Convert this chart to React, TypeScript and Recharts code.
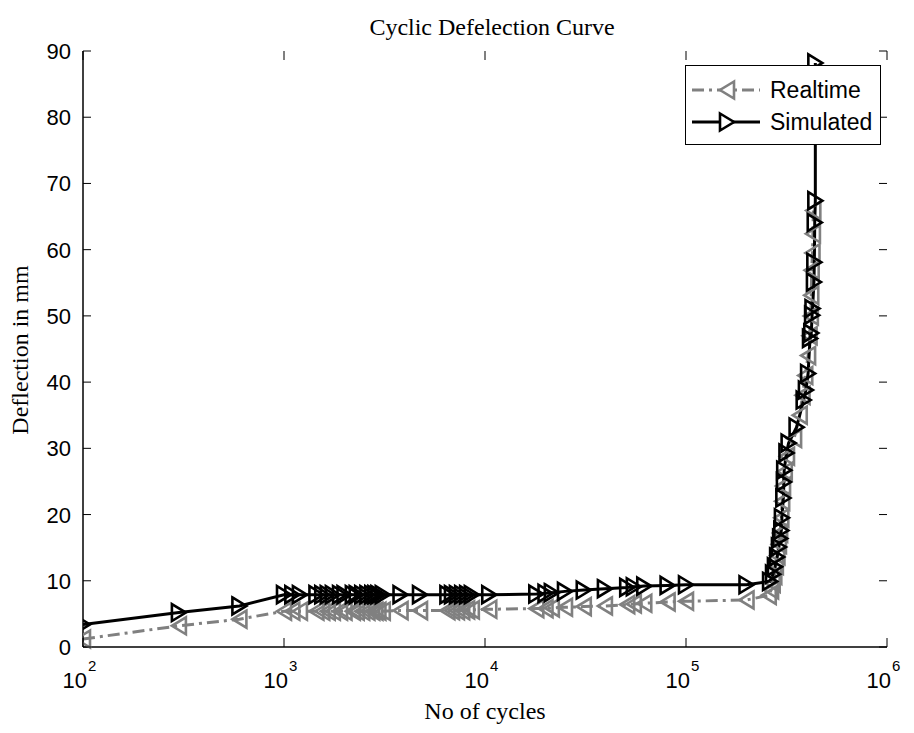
import React from 'react';
import {
  LineChart,
  Line,
  XAxis,
  YAxis,
  Legend,
} from 'recharts';

// realtime measurements (grey, dash-dot, '<' markers)
const realCycles = [
  100, 300, 600, 1000, 1100, 1200, 1450, 1550, 1650, 1750, 1900, 2000, 2200, 2300, 2450, 2600,
  2750, 2850, 2950, 3100, 3800, 4750, 6500, 6850, 7250, 7700, 8150, 8600, 10500, 18000, 20000,
  21500, 25000, 31000, 39500, 51000, 55000, 62000, 81000, 100000, 200000, 258000, 265000, 270000,
  275000, 280000, 285000, 290000, 294000, 298000, 301000, 304000, 310000, 318000, 345000, 368000,
  380000, 392000, 405000, 412000, 418000, 420000, 422000, 426000, 428000, 430000,
];
const realDeflection = [
  1.2, 3.2, 4.2, 5.4, 5.4, 5.4, 5.4, 5.4, 5.4, 5.4, 5.4, 5.4, 5.4, 5.4, 5.4, 5.4,
  5.4, 5.4, 5.4, 5.4, 5.5, 5.5, 5.5, 5.5, 5.5, 5.5, 5.6, 5.6, 5.7, 5.8, 5.8,
  5.9, 6.0, 6.1, 6.2, 6.4, 6.5, 6.6, 6.8, 6.9, 7.1, 7.8, 8.6, 9.6,
  10.8, 12.3, 13.8, 15.5, 17.2, 19.5, 22.0, 24.3, 26.5, 28.8, 31.5, 35.0,
  38.0, 41.0, 44.0, 47.0, 50.0, 53.1, 56.9, 59.5, 62.4, 65.9,
];

// simulated curve (black, solid, '>' markers)
const simCycles = [
  100, 300, 600, 1000, 1100, 1200, 1450, 1550, 1650, 1750, 1900, 2000, 2200, 2300, 2450, 2600,
  2750, 2850, 2950, 3100, 3800, 4750, 6500, 6850, 7250, 7700, 8150, 8600, 10500, 18000, 20000,
  21500, 25000, 31000, 39500, 51000, 55000, 62000, 81000, 100000, 200000, 262000, 271000, 277000,
  284000, 290000, 294000, 298000, 300000, 305000, 307000, 308000, 316000, 324000, 355000, 385000,
  395000, 405000, 414000, 420000, 424000, 426000, 433000, 435000, 437000, 440000, 440000,
];
const simDeflection = [
  3.4, 5.2, 6.2, 7.9, 7.9, 7.9, 7.9, 7.9, 7.9, 7.9, 7.9, 7.9, 7.9, 7.9, 7.9, 7.9,
  7.9, 7.9, 7.9, 7.9, 7.9, 7.9, 7.9, 7.9, 7.9, 7.9, 7.9, 7.9, 7.9, 8.0, 8.1,
  8.2, 8.4, 8.6, 8.8, 9.0, 9.1, 9.2, 9.3, 9.4, 9.4, 9.9, 11.0, 12.1,
  13.6, 15.1, 16.4, 17.6, 19.5, 22.5, 24.9, 26.7, 29.3, 30.8, 33.2, 37.3,
  38.8, 41.3, 46.6, 47.4, 50.1, 51.1, 55.1, 58.1, 64.1, 67.4, 88.2,
];

const xMajorTicks = [100, 1000, 10000, 100000, 1000000];
const xMinorTicks = [
  200, 300, 400, 500, 600, 700, 800, 900,
  2000, 3000, 4000, 5000, 6000, 7000, 8000, 9000,
  20000, 30000, 40000, 50000, 60000, 70000, 80000, 90000,
  200000, 300000, 400000, 500000, 600000, 700000, 800000, 900000,
];
const yTicks = [0, 10, 20, 30, 40, 50, 60, 70, 80, 90];

const realData = realCycles.map((x, i) => ({ x, y: realDeflection[i] }));
const simData = simCycles.map((x, i) => ({ x, y: simDeflection[i] }));

// plot box in pixels
const W = 914;
const H = 733;
const PL = 83;
const PR = 887;
const PT = 51;
const PB = 647;

const GREY = '#808080';
const sans = '"Liberation Sans", Arial, sans-serif';
const serif = '"Liberation Serif", "Times New Roman", serif';

const RightTri = (props: any) => {
  const { cx, cy, index } = props;
  if (cx == null || cy == null) return null;
  const w = 7;
  const h = 8.5;
  return (
    <polygon
      key={`s-${index}`}
      points={`${cx - w},${cy - h} ${cx + w},${cy} ${cx - w},${cy + h}`}
      fill='none'
      stroke='#000'
      strokeWidth={2.6}
      strokeLinejoin='miter'
    />
  );
};

const LeftTri = (props: any) => {
  const { cx, cy, index } = props;
  if (cx == null || cy == null) return null;
  const w = 7;
  const h = 8.5;
  return (
    <polygon
      key={`r-${index}`}
      points={`${cx + w},${cy - h} ${cx - w},${cy} ${cx + w},${cy + h}`}
      fill='none'
      stroke={GREY}
      strokeWidth={2.6}
      strokeLinejoin='miter'
    />
  );
};

const XMajorTick = (props: any) => {
  const { x, payload } = props;
  const exp = Math.round(Math.log10(payload.value));
  return (
    <g>
      <line x1={x} x2={x} y1={PB} y2={PB - 9} stroke='#000' />
      <line x1={x} x2={x} y1={PT} y2={PT + 9} stroke='#000' />
      <text x={x + 4} y={688} textAnchor='end' fontSize={22} fontFamily={sans} fill='#000'>
        10
      </text>
      <text x={x + 5} y={671} fontSize={15} fontFamily={sans} fill='#000'>
        {exp}
      </text>
    </g>
  );
};

const XMinorTick = (props: any) => {
  const { x } = props;
  return (
    <g>
      <line x1={x} x2={x} y1={PB} y2={PB - 5} stroke='#000' />
      <line x1={x} x2={x} y1={PT} y2={PT + 5} stroke='#000' />
    </g>
  );
};

const YTick = (props: any) => {
  const { y, payload } = props;
  return (
    <g>
      <line x1={PL} x2={PL + 8} y1={y} y2={y} stroke='#000' />
      <line x1={PR} x2={PR - 8} y1={y} y2={y} stroke='#000' />
      <text
        x={PL - 12}
        y={y + 8}
        textAnchor='end'
        fontSize={22}
        fontFamily={sans}
        fill='#000'
      >
        {payload.value}
      </text>
    </g>
  );
};

const LegendBox = () => (
  <div
    style={{
      width: 196,
      height: 80,
      background: '#fff',
      border: '1.5px solid #000',
      boxSizing: 'border-box',
      fontFamily: sans,
      fontSize: 23,
      color: '#000',
      paddingTop: 8,
    }}
  >
    {[
      { name: 'Realtime', color: GREY, dash: '12 5 3 5', dir: 'left' },
      { name: 'Simulated', color: '#000', dash: undefined, dir: 'right' },
    ].map((item) => (
      <div key={item.name} style={{ display: 'flex', alignItems: 'center', height: 32 }}>
        <svg width={82} height={30} style={{ flex: 'none' }}>
          <line
            x1={6}
            x2={74}
            y1={15}
            y2={15}
            stroke={item.color}
            strokeWidth={3}
            strokeDasharray={item.dash}
          />
          {item.dir === 'left' ? (
            <polygon points='48,6.5 34,15 48,23.5' fill='#fff' stroke={item.color} strokeWidth={2.6} />
          ) : (
            <polygon points='34,6.5 48,15 34,23.5' fill='#fff' stroke={item.color} strokeWidth={2.6} />
          )}
        </svg>
        <span style={{ marginLeft: 2 }}>{item.name}</span>
      </div>
    ))}
  </div>
);

const CyclicDeflectionChart = () => {
  return (
    <div style={{ position: 'absolute', left: 0, top: 0, width: W, height: H, background: '#fff' }}>
      <div
        style={{
          position: 'absolute',
          left: 0,
          width: W,
          top: 14,
          textAlign: 'center',
          fontFamily: serif,
          fontSize: 24,
          paddingLeft: 70,
          boxSizing: 'border-box',
        }}
      >
        Cyclic Defelection Curve
      </div>
      <div
        style={{
          position: 'absolute',
          left: 0,
          width: W,
          top: 698,
          textAlign: 'center',
          fontFamily: serif,
          fontSize: 24,
          paddingLeft: 56,
          boxSizing: 'border-box',
        }}
      >
        No of cycles
      </div>
      <div
        style={{
          position: 'absolute',
          left: 20,
          top: 350,
          transform: 'translate(-50%, -50%) rotate(-90deg)',
          fontFamily: serif,
          fontSize: 24,
          whiteSpace: 'nowrap',
        }}
      >
        Deflection in mm
      </div>

      <LineChart
        width={W}
        height={H}
        margin={{ top: PT, right: W - PR, bottom: H - PB - 40, left: PL - 40 }}
        style={{ position: 'absolute', left: 0, top: 0 }}
      >
        <XAxis
          dataKey='x'
          type='number'
          scale='log'
          domain={[100, 1000000]}
          allowDataOverflow
          ticks={xMajorTicks}
          interval={0}
          tick={<XMajorTick />}
          tickLine={false}
          axisLine={{ stroke: '#000', strokeWidth: 1.5 }}
          height={40}
        />
        <XAxis
          xAxisId='minor'
          dataKey='x'
          type='number'
          scale='log'
          domain={[100, 1000000]}
          allowDataOverflow
          orientation='top'
          ticks={xMinorTicks}
          interval={0}
          tick={<XMinorTick />}
          tickLine={false}
          axisLine={{ stroke: '#000', strokeWidth: 1.5 }}
          height={0}
        />
        <YAxis
          type='number'
          domain={[0, 90]}
          ticks={yTicks}
          interval={0}
          tick={<YTick />}
          tickLine={false}
          axisLine={{ stroke: '#000', strokeWidth: 1.5 }}
          width={40}
        />
        <YAxis
          yAxisId='right'
          orientation='right'
          type='number'
          domain={[0, 90]}
          tick={false}
          tickLine={false}
          axisLine={{ stroke: '#000', strokeWidth: 1.5 }}
          width={0}
        />
        <Line
          data={realData}
          dataKey='y'
          name='Realtime'
          stroke={GREY}
          strokeWidth={3}
          strokeDasharray='12 5 3 5'
          dot={<LeftTri />}
          activeDot={false}
          isAnimationActive={false}
        />
        <Line
          data={simData}
          dataKey='y'
          name='Simulated'
          stroke='#000'
          strokeWidth={3}
          dot={<RightTri />}
          activeDot={false}
          isAnimationActive={false}
        />
        <Legend
          layout='vertical'
          align='center'
          verticalAlign='middle'
          content={<LegendBox />}
          wrapperStyle={{ position: 'absolute', left: 685, top: 65, width: 196, height: 80 }}
        />
      </LineChart>
    </div>
  );
};

export default CyclicDeflectionChart;
